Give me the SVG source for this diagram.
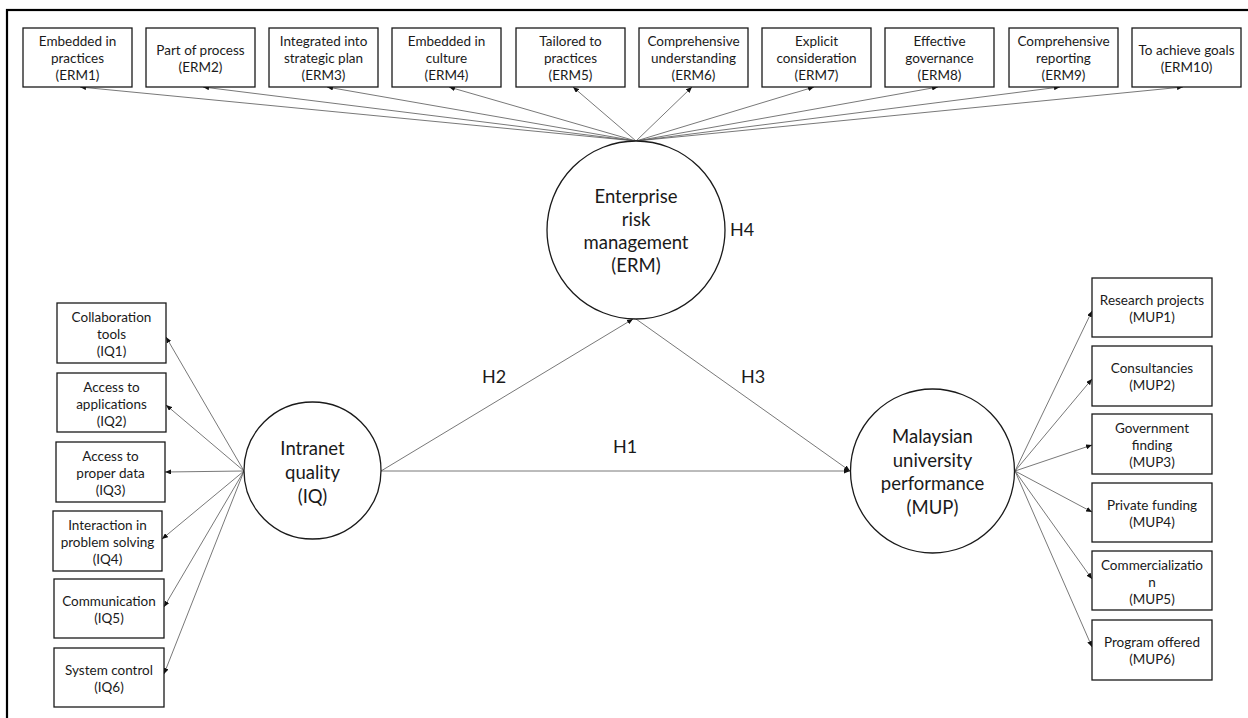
<svg xmlns="http://www.w3.org/2000/svg" width="1248" height="718" viewBox="0 0 1248 718">
<style>
.frame{fill:none;stroke:#000;stroke-width:2.2}
.box{fill:#fff;stroke:#1a1a1a;stroke-width:1.3}
.lat{fill:#fff;stroke:#1a1a1a;stroke-width:1.3}
.bt{font-family:Lato,"Liberation Sans",sans-serif;font-size:13.5px;fill:#1a1a1a;text-anchor:middle}
.ct{font-family:Lato,"Liberation Sans",sans-serif;font-size:18.5px;fill:#1a1a1a;text-anchor:middle}
.ht{font-family:Lato,"Liberation Sans",sans-serif;font-size:18px;fill:#1a1a1a;text-anchor:middle}
.c{stroke:#555;stroke-width:0.8;fill:none;marker-end:url(#ah)}
</style>
<defs>
<marker id="ah" markerUnits="userSpaceOnUse" markerWidth="6" markerHeight="5" refX="6" refY="2.5" orient="auto">
<path d="M0,0 L6,2.5 L0,5 z" fill="#111"/>
</marker>
</defs>
<rect width="1248" height="718" fill="#fff"/>
<rect class="frame" x="7" y="10" width="1260" height="730"/>

<g id="connectors">
<line class="c" x1="636" y1="141" x2="80" y2="87"/>
<line class="c" x1="636" y1="141" x2="203" y2="87"/>
<line class="c" x1="636" y1="141" x2="327" y2="87"/>
<line class="c" x1="636" y1="141" x2="449" y2="87"/>
<line class="c" x1="636" y1="141" x2="573" y2="87"/>
<line class="c" x1="636" y1="141" x2="692" y2="87"/>
<line class="c" x1="636" y1="141" x2="814" y2="87"/>
<line class="c" x1="636" y1="141" x2="938" y2="87"/>
<line class="c" x1="636" y1="141" x2="1060" y2="87"/>
<line class="c" x1="636" y1="141" x2="1183" y2="87"/>
<line class="c" x1="244" y1="471" x2="166" y2="337"/>
<line class="c" x1="244" y1="471" x2="166" y2="405"/>
<line class="c" x1="244" y1="471" x2="165" y2="472"/>
<line class="c" x1="244" y1="471" x2="162" y2="539"/>
<line class="c" x1="244" y1="471" x2="164" y2="607"/>
<line class="c" x1="244" y1="471" x2="164" y2="674"/>
<line class="c" x1="1015" y1="471" x2="1092" y2="311"/>
<line class="c" x1="1015" y1="471" x2="1092" y2="379"/>
<line class="c" x1="1015" y1="471" x2="1092" y2="445"/>
<line class="c" x1="1015" y1="471" x2="1092" y2="512"/>
<line class="c" x1="1015" y1="471" x2="1092" y2="579"/>
<line class="c" x1="1015" y1="471" x2="1092" y2="647"/>
<line class="c" x1="381" y1="471" x2="850" y2="471"/>
<line class="c" x1="381" y1="471" x2="633" y2="319"/>
<line class="c" x1="636" y1="319" x2="850" y2="471"/>
<text class="ht" x="625" y="453">H1</text>
<text class="ht" x="494" y="383">H2</text>
<text class="ht" x="753" y="383">H3</text>
<text class="ht" x="742" y="236">H4</text>
</g>

<g id="ERM">
<circle class="lat" cx="636" cy="230" r="89"/>
<text class="ct" x="636" y="203">Enterprise</text>
<text class="ct" x="636" y="226">risk</text>
<text class="ct" x="636" y="249">management</text>
<text class="ct" x="636" y="272">(ERM)</text>
</g>
<g id="IQ">
<circle class="lat" cx="312.5" cy="470.5" r="68.5"/>
<text class="ct" x="312.5" y="455">Intranet</text>
<text class="ct" x="312.5" y="479">quality</text>
<text class="ct" x="312.5" y="503">(IQ)</text>
</g>
<g id="MUP">
<circle class="lat" cx="932.5" cy="471" r="82"/>
<text class="ct" x="932.5" y="443">Malaysian</text>
<text class="ct" x="932.5" y="466.5">university</text>
<text class="ct" x="932.5" y="490">performance</text>
<text class="ct" x="932.5" y="513.5">(MUP)</text>
</g>

<g id="ERM1"><rect class="box" x="23" y="28" width="109" height="59"/><text class="bt" x="77.5" y="46">Embedded in</text><text class="bt" x="77.5" y="63">practices</text><text class="bt" x="77.5" y="80">(ERM1)</text></g>
<g id="ERM2"><rect class="box" x="146" y="28" width="109" height="59"/><text class="bt" x="200.5" y="54.5">Part of process</text><text class="bt" x="200.5" y="71.5">(ERM2)</text></g>
<g id="ERM3"><rect class="box" x="269" y="28" width="109" height="59"/><text class="bt" x="323.5" y="46">Integrated into</text><text class="bt" x="323.5" y="63">strategic plan</text><text class="bt" x="323.5" y="80">(ERM3)</text></g>
<g id="ERM4"><rect class="box" x="392" y="28" width="109" height="59"/><text class="bt" x="446.5" y="46">Embedded in</text><text class="bt" x="446.5" y="63">culture</text><text class="bt" x="446.5" y="80">(ERM4)</text></g>
<g id="ERM5"><rect class="box" x="516" y="28" width="109" height="59"/><text class="bt" x="570.5" y="46">Tailored to</text><text class="bt" x="570.5" y="63">practices</text><text class="bt" x="570.5" y="80">(ERM5)</text></g>
<g id="ERM6"><rect class="box" x="639" y="28" width="109" height="59"/><text class="bt" x="693.5" y="46">Comprehensive</text><text class="bt" x="693.5" y="63">understanding</text><text class="bt" x="693.5" y="80">(ERM6)</text></g>
<g id="ERM7"><rect class="box" x="762" y="28" width="109" height="59"/><text class="bt" x="816.5" y="46">Explicit</text><text class="bt" x="816.5" y="63">consideration</text><text class="bt" x="816.5" y="80">(ERM7)</text></g>
<g id="ERM8"><rect class="box" x="885" y="28" width="109" height="59"/><text class="bt" x="939.5" y="46">Effective</text><text class="bt" x="939.5" y="63">governance</text><text class="bt" x="939.5" y="80">(ERM8)</text></g>
<g id="ERM9"><rect class="box" x="1009" y="28" width="109" height="59"/><text class="bt" x="1063.5" y="46">Comprehensive</text><text class="bt" x="1063.5" y="63">reporting</text><text class="bt" x="1063.5" y="80">(ERM9)</text></g>
<g id="ERM10"><rect class="box" x="1132" y="28" width="109" height="59"/><text class="bt" x="1186.5" y="54.5">To achieve goals</text><text class="bt" x="1186.5" y="71.5">(ERM10)</text></g>

<g id="IQ1"><rect class="box" x="57" y="303" width="109" height="60"/><text class="bt" x="111.5" y="322">Collaboration</text><text class="bt" x="111.5" y="339">tools</text><text class="bt" x="111.5" y="356">(IQ1)</text></g>
<g id="IQ2"><rect class="box" x="57" y="373" width="109" height="59"/><text class="bt" x="111.5" y="391.5">Access to</text><text class="bt" x="111.5" y="408.5">applications</text><text class="bt" x="111.5" y="425.5">(IQ2)</text></g>
<g id="IQ3"><rect class="box" x="56" y="442" width="109" height="60"/><text class="bt" x="110.5" y="461">Access to</text><text class="bt" x="110.5" y="478">proper data</text><text class="bt" x="110.5" y="495">(IQ3)</text></g>
<g id="IQ4"><rect class="box" x="53" y="511" width="109" height="60"/><text class="bt" x="107.5" y="530">Interaction in</text><text class="bt" x="107.5" y="547">problem solving</text><text class="bt" x="107.5" y="564">(IQ4)</text></g>
<g id="IQ5"><rect class="box" x="54" y="579" width="110" height="59"/><text class="bt" x="109" y="606">Communication</text><text class="bt" x="109" y="623">(IQ5)</text></g>
<g id="IQ6"><rect class="box" x="54" y="648" width="110" height="59"/><text class="bt" x="109" y="675">System control</text><text class="bt" x="109" y="692">(IQ6)</text></g>

<g id="MUP1"><rect class="box" x="1092" y="278" width="120" height="59"/><text class="bt" x="1152" y="305">Research projects</text><text class="bt" x="1152" y="322">(MUP1)</text></g>
<g id="MUP2"><rect class="box" x="1092" y="346" width="120" height="60"/><text class="bt" x="1152" y="373">Consultancies</text><text class="bt" x="1152" y="390">(MUP2)</text></g>
<g id="MUP3"><rect class="box" x="1092" y="414" width="120" height="60"/><text class="bt" x="1152" y="433">Government</text><text class="bt" x="1152" y="450">finding</text><text class="bt" x="1152" y="467">(MUP3)</text></g>
<g id="MUP4"><rect class="box" x="1092" y="483" width="120" height="59"/><text class="bt" x="1152" y="510">Private funding</text><text class="bt" x="1152" y="527">(MUP4)</text></g>
<g id="MUP5"><rect class="box" x="1092" y="551" width="120" height="59"/><text class="bt" x="1152" y="569.5">Commercializatio</text><text class="bt" x="1152" y="586.5">n</text><text class="bt" x="1152" y="603.5">(MUP5)</text></g>
<g id="MUP6"><rect class="box" x="1092" y="620" width="120" height="60"/><text class="bt" x="1152" y="647">Program offered</text><text class="bt" x="1152" y="664">(MUP6)</text></g>
</svg>
